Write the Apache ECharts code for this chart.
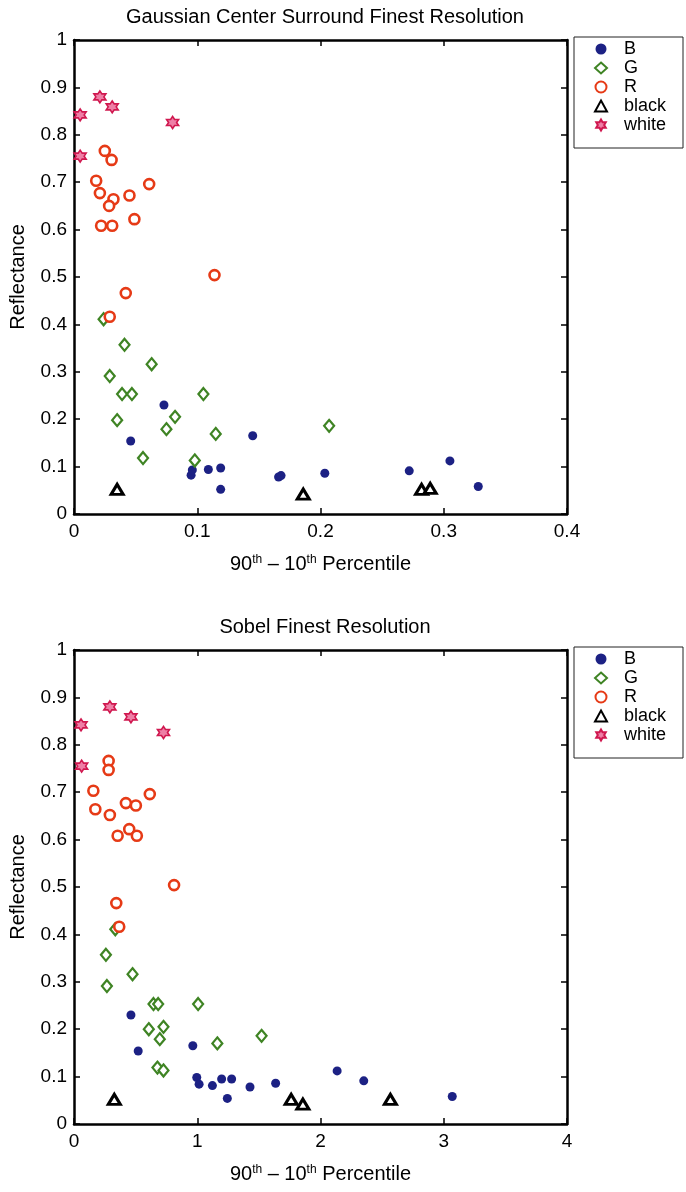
<!DOCTYPE html>
<html>
<head>
<meta charset="utf-8">
<script src="https://cdn.jsdelivr.net/npm/echarts@6/dist/echarts.min.js"></script>
<style>
html,body{margin:0;padding:0;background:#fff;}
#c{width:686px;height:1192px;}
</style>
</head>
<body>
<div id="c"></div>
<script>
// ---------- Data ----------
const titles = ['Gaussian Center Surround Finest Resolution', 'Sobel Finest Resolution'];
const seriesNames = ['B', 'G', 'R', 'black', 'white'];
const xTicksTop = ['0', '0.1', '0.2', '0.3', '0.4'];
const xTicksBottom = ['0', '1', '2', '3', '4'];
const yTicks = ['0', '0.1', '0.2', '0.3', '0.4', '0.5', '0.6', '0.7', '0.8', '0.9', '1'];

// Gaussian center surround (top)
const gcsB = [[0.073,0.230],[0.046,0.154],[0.145,0.165],[0.095,0.082],[0.096,0.093],[0.109,0.094],[0.119,0.097],[0.119,0.052],[0.166,0.078],[0.168,0.081],[0.2035,0.086],[0.272,0.091],[0.305,0.112],[0.328,0.058]];
const gcsG = [[0.024,0.411],[0.041,0.357],[0.063,0.316],[0.029,0.291],[0.039,0.253],[0.047,0.253],[0.105,0.253],[0.035,0.198],[0.082,0.205],[0.075,0.179],[0.115,0.169],[0.056,0.118],[0.098,0.113],[0.207,0.186]];
const gcsR = [[0.025,0.766],[0.0305,0.747],[0.018,0.703],[0.021,0.677],[0.032,0.664],[0.0285,0.650],[0.045,0.672],[0.061,0.696],[0.049,0.622],[0.022,0.608],[0.031,0.608],[0.114,0.504],[0.042,0.466],[0.029,0.416]];
const gcsBlack = [[0.035,0.052],[0.186,0.042],[0.282,0.052],[0.289,0.054]];
const gcsWhite = [[0.005,0.842],[0.021,0.880],[0.031,0.859],[0.080,0.826],[0.005,0.755]];

// Sobel (bottom)
const sobB = [[0.462,0.230],[0.521,0.154],[0.964,0.165],[0.996,0.098],[1.015,0.084],[1.123,0.081],[1.198,0.095],[1.279,0.095],[1.244,0.054],[1.428,0.078],[1.636,0.086],[2.135,0.112],[2.351,0.091],[3.069,0.058]];
const sobG = [[0.335,0.411],[0.259,0.357],[0.475,0.316],[0.267,0.291],[0.645,0.253],[0.683,0.253],[1.007,0.253],[0.607,0.200],[0.726,0.205],[0.696,0.179],[1.163,0.170],[1.522,0.186],[0.677,0.119],[0.726,0.113]];
const sobR = [[0.281,0.766],[0.281,0.747],[0.157,0.703],[0.173,0.664],[0.291,0.652],[0.421,0.677],[0.502,0.672],[0.615,0.696],[0.448,0.622],[0.354,0.608],[0.510,0.608],[0.812,0.504],[0.343,0.466],[0.367,0.416]];
const sobBlack = [[0.327,0.052],[1.762,0.052],[1.857,0.042],[2.567,0.052]];
const sobWhite = [[0.057,0.842],[0.291,0.880],[0.462,0.859],[0.726,0.826],[0.062,0.755]];

// ---------- Styles ----------
const FONT = 'Liberation Sans, Arial, sans-serif';
const hexagram = 'path://M0,-10 L2.887,-5 L8.66,-5 L5.77,0 L8.66,5 L2.887,5 L0,10 L-2.887,5 L-8.66,5 L-5.77,0 L-8.66,-5 L-2.887,-5 Z';
const styles = {
  B: {symbol: 'circle', symbolSize: 9, itemStyle: {color: '#1c2184', borderWidth: 0, opacity: 1}},
  G: {symbol: 'diamond', symbolSize: [10, 12], itemStyle: {color: '#ffffff', borderColor: '#3f8424', borderWidth: 2.2, opacity: 1}},
  R: {symbol: 'circle', symbolSize: 10, itemStyle: {color: '#ffffff', borderColor: '#e63a16', borderWidth: 2.6, opacity: 1}},
  black: {symbol: 'triangle', symbolSize: [12, 10], itemStyle: {color: '#ffffff', borderColor: '#000000', borderWidth: 3, opacity: 1}},
  white: {symbol: hexagram, symbolSize: 12, itemStyle: {color: '#ee7fa6', borderColor: '#d0184f', borderWidth: 1.6, opacity: 1}}
};

const grids = [
  {left: 73, top: 40, width: 494, height: 474},
  {left: 73, top: 650, width: 494, height: 474}
];

function xAxisPair(gi, max, interval, labels) {
  const base = {
    gridIndex: gi, type: 'value', min: 0, max: max, interval: interval,
    axisLine: {show: true, onZero: false, lineStyle: {color: '#000', width: 2.5}},
    axisTick: {show: true, inside: true, length: 6, lineStyle: {color: '#000', width: 1.5}},
    splitLine: {show: false}
  };
  return [
    Object.assign({}, base, {
      position: 'bottom',
      axisLabel: {show: true, color: '#000', fontFamily: FONT, fontSize: 19, margin: 8,
        formatter: function (v) { return labels[Math.round(v / interval)]; }},
      name: '90{sup|th} \u2013 10{sup|th} Percentile',
      nameLocation: 'middle', nameGap: 40,
      nameTextStyle: {color: '#000', fontFamily: FONT, fontSize: 20,
        rich: {sup: {fontSize: 12, verticalAlign: 'top', color: '#000', fontFamily: FONT, padding: [0, 0, 8, 0]}}}
    }),
    Object.assign({}, base, {position: 'top', axisLabel: {show: false}})
  ];
}
function yAxisPair(gi) {
  const base = {
    gridIndex: gi, type: 'value', min: 0, max: 1, interval: 0.1,
    axisLine: {show: true, onZero: false, lineStyle: {color: '#000', width: 2.5}},
    axisTick: {show: true, inside: true, length: 6, lineStyle: {color: '#000', width: 1.5}},
    splitLine: {show: false}
  };
  return [
    Object.assign({}, base, {
      position: 'left',
      axisLabel: {show: true, color: '#000', fontFamily: FONT, fontSize: 19, margin: 7,
        formatter: function (v) { return yTicks[Math.round(v * 10)]; }},
      name: 'Reflectance', nameLocation: 'middle', nameGap: 46,
      nameTextStyle: {color: '#000', fontFamily: FONT, fontSize: 20}
    }),
    Object.assign({}, base, {position: 'right', axisLabel: {show: false}})
  ];
}

const xAxes = [].concat(xAxisPair(0, 0.4, 0.1, xTicksTop), xAxisPair(1, 4, 1, xTicksBottom));
const yAxes = [].concat(yAxisPair(0), yAxisPair(1));

const dataSets = [
  {B: gcsB, G: gcsG, R: gcsR, black: gcsBlack, white: gcsWhite},
  {B: sobB, G: sobG, R: sobR, black: sobBlack, white: sobWhite}
];

const series = [];
dataSets.forEach(function (ds, gi) {
  seriesNames.forEach(function (n) {
    series.push(Object.assign({
      name: n, type: 'scatter', xAxisIndex: gi * 2, yAxisIndex: gi * 2,
      data: ds[n], z: 3
    }, styles[n]));
  });
});

const legendBase = {
  orient: 'vertical', left: 594, itemWidth: 12, itemHeight: 11, itemGap: 1,
  padding: 0, borderWidth: 0,
  textStyle: {color: '#000', fontFamily: FONT, fontSize: 18, padding: [0, 0, 0, 12]},
  data: seriesNames, selectedMode: false
};

const chart = echarts.init(document.getElementById('c'), null, {renderer: 'canvas'});
chart.setOption({
  backgroundColor: '#fff',
  animation: false,
  title: [
    {text: titles[0], left: 320, textAlign: 'center', top: 2,
      textStyle: {color: '#000', fontFamily: FONT, fontSize: 20, fontWeight: 'normal'}},
    {text: titles[1], left: 320, textAlign: 'center', top: 612,
      textStyle: {color: '#000', fontFamily: FONT, fontSize: 20, fontWeight: 'normal'}}
  ],
  grid: grids,
  xAxis: xAxes,
  yAxis: yAxes,
  legend: [
    Object.assign({}, legendBase, {top: 40}),
    Object.assign({}, legendBase, {top: 650})
  ],
  graphic: [
    {type: 'rect', shape: {x: 574, y: 37, width: 109, height: 111}, style: {fill: 'none', stroke: '#222', lineWidth: 1}, z: 1},
    {type: 'rect', shape: {x: 574, y: 647, width: 109, height: 111}, style: {fill: 'none', stroke: '#222', lineWidth: 1}, z: 1}
  ],
  series: series
});
</script>
</body>
</html>
